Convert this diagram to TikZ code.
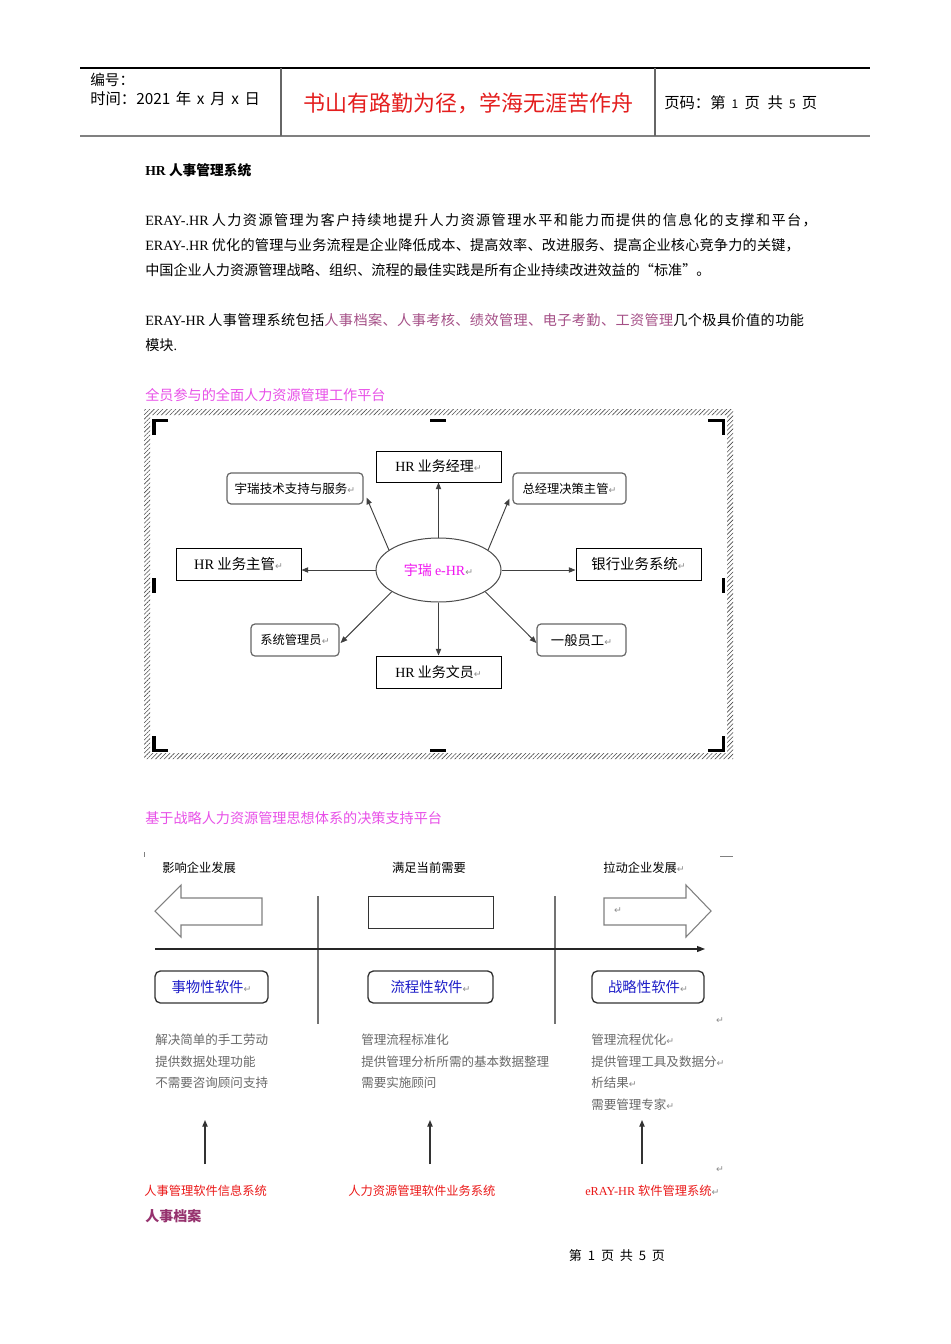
\documentclass[tikz,border=0pt]{standalone}
\usepackage{fontspec}
\setmainfont{Noto Sans CJK SC}
\newfontfamily\tnr{Liberation Serif}
\newfontfamily\djv{DejaVu Sans}
\usetikzlibrary{arrows.meta,patterns.meta,calc,shapes.geometric}
\newcommand{\fsz}[1]{\fontsize{#1}{#1}\selectfont}
\newcommand{\parmk}{{\djv\fontsize{7}{7}\selectfont\color{black!45}↵}}
\newcommand{\hgap}{\hspace{0.37em}}
\definecolor{motto}{RGB}{228,30,30}
\definecolor{mauve}{RGB}{165,80,135}
\definecolor{plum}{RGB}{150,50,110}
\definecolor{pinkh}{RGB}{232,80,232}
\definecolor{magx}{RGB}{240,20,240}
\definecolor{swblue}{RGB}{30,30,200}
\definecolor{listgray}{RGB}{105,105,105}
\definecolor{redlab}{RGB}{235,25,25}
\tikzset{
  txt/.style={inner sep=0pt, anchor=west},
  sqbox/.style={draw=black, line width=0.75pt, inner sep=0pt, minimum height=24pt},
  rbox/.style={draw=black!60, line width=0.9pt, rounded corners=3pt, inner sep=0pt, minimum height=23.25pt},
  swbox/.style={draw=black!80, line width=1pt, rounded corners=4pt, inner sep=0pt, minimum height=24pt},
  arr/.style={-{Triangle[length=5pt,width=4pt]}, line width=0.7pt, draw=black!75},
  cornermk/.style={line width=2.4pt, draw=black, line cap=butt, line join=miter},
  blockarrow/.style={draw=black!50, line width=0.8pt},
  vline/.style={draw=black!55, line width=0.9pt},
}
\begin{document}
\begin{tikzpicture}[x=0.75pt,y=-0.75pt]
\useasboundingbox (0,0) rectangle (950,1344);
\fill[white] (0,0) rectangle (950,1344);

% ---------- header ----------
\draw[black, line width=0.8pt] (80,68) -- (870,68);
\draw[black!50, line width=1.6pt] (80,136) -- (870,136);
\draw[black!60, line width=0.9pt] (281,68) -- (281,136);
\draw[black!60, line width=0.9pt] (655,68) -- (655,136);
\node[txt] (hnum) at (90,80) {\fsz{11}编号：};
\node[txt] (htime) at (90,99) {\fsz{11.5}时间：2021\hgap 年\hgap x\hgap 月\hgap x\hgap 日};
\node (hmotto) at (468,103) {\fsz{16.5}\color{motto}书山有路勤为径，学海无涯苦作舟};
\node[txt] (hpage) at (664,103) {\fsz{11.5}页码：第\hspace{0.4em}{\fsz{9}1}\hspace{0.4em}页\enspace 共\hspace{0.4em}{\fsz{9}5}\hspace{0.4em}页};

% ---------- body text ----------
\node[txt] (title) at (145,170) {\fsz{10.3}\bfseries{\tnr HR} 人事管理系统};
\node[txt] (p1) at (145,220) {\fsz{10.6}{\tnr ERAY-.HR} \addfontfeature{LetterSpace=10}人力资源管理为客户持续地提升人力资源管理水平和能力而提供的信息化的支撑和平台，};
\node[txt] (p2) at (145,245) {\fsz{10.6}{\tnr ERAY-.HR} \addfontfeature{LetterSpace=1.5}优化的管理与业务流程是企业降低成本、提高效率、改进服务、提高企业核心竞争力的关键，};
\node[txt] (p3) at (145,270) {\fsz{10.6}中国企业人力资源管理战略、组织、流程的最佳实践是所有企业持续改进效益的“标准”。};
\node[txt] (p4) at (145,320) {\fsz{10.6}{\tnr ERAY-HR} \addfontfeature{LetterSpace=3}人事管理系统包括{\color{mauve}人事档案、人事考核、绩效管理、电子考勤、工资管理}几个极具价值的功能};
\node[txt] (p5) at (145,345) {\fsz{10.6}模块{\tnr .}};
\node[txt] (h1) at (145,395) {\fsz{10.6}\color{pinkh}全员参与的全面人力资源管理工作平台};

% ---------- diagram 1 frame ----------
\fill[pattern={Lines[angle=45,distance=2.3pt,line width=0.45pt]}, pattern color=black!70, even odd rule]
  (144,409) rectangle (733,759) (150,415) rectangle (727,753);
\draw[cornermk] (168,420.5) -- (154,420.5) -- (154,435);
\draw[cornermk] (708,420.5) -- (723.5,420.5) -- (723.5,435);
\draw[cornermk] (168,750.5) -- (154,750.5) -- (154,736);
\draw[cornermk] (708,750.5) -- (723.5,750.5) -- (723.5,736);
\draw[cornermk] (430,420.5) -- (446,420.5);
\draw[cornermk] (430,750.5) -- (446,750.5);
\draw[cornermk] (154,578) -- (154,593);
\draw[cornermk] (723.5,578) -- (723.5,593);

% ---------- diagram 1 nodes ----------
\node[ellipse, draw=black!70, line width=0.75pt, minimum width=93.75pt, minimum height=48pt, inner sep=0pt] (ehr) at (438.5,570)
  {\fsz{10.5}\color{magx}宇瑞 {\tnr e-HR}\parmk};
\node[sqbox, minimum width=93.75pt, minimum height=23.25pt] (mgr) at (438.5,466.5) {\fsz{10.5}{\tnr HR} 业务经理\parmk};
\node[rbox, minimum width=102pt] (tech) at (295,488.5) {\fsz{9.4}宇瑞技术支持与服务\parmk};
\node[rbox, minimum width=84.75pt] (ceo) at (569.5,488.5) {\fsz{9.2}总经理决策主管\parmk};
\node[sqbox, minimum width=93.75pt] (sup) at (238.5,564) {\fsz{10.8}{\tnr HR} 业务主管\parmk};
\node[sqbox, minimum width=93.75pt] (bank) at (638.5,564) {\fsz{10.8}银行业务系统\parmk};
\node[rbox, minimum width=66pt, minimum height=24pt] (adm) at (295,640) {\fsz{9.2}系统管理员\parmk};
\node[rbox, minimum width=66.75pt, minimum height=24pt] (emp) at (581.5,640) {\fsz{10}一般员工\parmk};
\node[sqbox, minimum width=93.75pt] (clerk) at (438.5,672) {\fsz{10.5}{\tnr HR} 业务文员\parmk};

\draw[arr] (ehr.north) -- (mgr.south);
\draw[arr] (ehr.south) -- (clerk.north);
\draw[arr] (ehr.west) -- (sup.east |- ehr.west);
\draw[arr] (ehr.east) -- (bank.west |- ehr.east);
\draw[arr] (ehr.158) -- ($(tech.south east)+(3,-7)$);
\draw[arr] (ehr.22) -- ($(ceo.south west)+(-3,-6)$);
\draw[arr] (ehr.205) -- ($(adm.east)+(1,3)$);
\draw[arr] (ehr.-25) -- ($(emp.west)+(0,3)$);

% ---------- diagram 2 ----------
\node[txt] (h2) at (145,818) {\fsz{10.6}\color{pinkh}基于战略人力资源管理思想体系的决策支持平台};
\draw[black!50, line width=0.5pt] (144,852) -- (144,857);
\draw[black!50, line width=0.5pt] (720,856) -- (733,856);

\node[txt] (infl) at (162,868) {\fsz{9.2}影响企业发展};
\node (meet) at (429,868) {\fsz{9.2}满足当前需要};
\node[txt] (pull) at (603,868) {\fsz{9.2}拉动企业发展\parmk};

\draw[blockarrow] (155,911) -- (181,885) -- (181,898) -- (262,898) -- (262,925) -- (181,925) -- (181,937) -- cycle;
\draw[blockarrow] (711,911) -- (686,885) -- (686,898) -- (604,898) -- (604,925) -- (686,925) -- (686,937) -- cycle;
\node[inner sep=0pt] (rmk) at (618,911) {\parmk};
\draw[black!80, line width=0.7pt] (368,896) rectangle (493,928);

\draw[vline] (318,896) -- (318,1024);
\draw[vline] (555,896) -- (555,1024);

\coordinate (axA) at (155,949);
\coordinate (axB) at (705,949);
\draw[-{Triangle[length=6pt,width=4.5pt]}, line width=0.8pt, black!85] (axA) -- (axB);

\node[swbox, minimum width=84.75pt] (swA) at (211.5,987) {\fsz{10.8}\color{swblue}事物性软件\parmk};
\node[swbox, minimum width=93.75pt] (swB) at (430.5,987) {\fsz{10.8}\color{swblue}流程性软件\parmk};
\node[swbox, minimum width=84pt] (swC) at (648,987) {\fsz{10.8}\color{swblue}战略性软件\parmk};
\node[inner sep=0pt] (rmk2) at (720,1021) {\parmk};

\begin{scope}[every node/.style={txt}]
\node (la1) at (155,1040) {\fsz{9.4}\color{listgray}解决简单的手工劳动};
\node (la2) at (155,1062) {\fsz{9.4}\color{listgray}提供数据处理功能};
\node (la3) at (155,1083) {\fsz{9.4}\color{listgray}不需要咨询顾问支持};
\node (lb1) at (361,1040) {\fsz{9.4}\color{listgray}管理流程标准化};
\node (lb2) at (361,1062) {\fsz{9.4}\color{listgray}提供管理分析所需的基本数据整理};
\node (lb3) at (361,1083) {\fsz{9.4}\color{listgray}需要实施顾问};
\node (lc1) at (591,1040) {\fsz{9.4}\color{listgray}管理流程优化\parmk};
\node (lc2) at (591,1062) {\fsz{9.4}\color{listgray}提供管理工具及数据分\parmk};
\node (lc3) at (591,1083) {\fsz{9.4}\color{listgray}析结果\parmk};
\node (lc4) at (591,1105) {\fsz{9.4}\color{listgray}需要管理专家\parmk};
\end{scope}

\coordinate (uA0) at (205,1164); \coordinate (uA1) at (205,1120);
\coordinate (uB0) at (430,1164); \coordinate (uB1) at (430,1120);
\coordinate (uC0) at (642,1164); \coordinate (uC1) at (642,1120);
\draw[arr, line width=0.9pt, draw=black!80] (uA0) -- (uA1);
\draw[arr, line width=0.9pt, draw=black!80] (uB0) -- (uB1);
\draw[arr, line width=0.9pt, draw=black!80] (uC0) -- (uC1);
\node[inner sep=0pt] (rmk3) at (720,1170) {\parmk};

\node[txt] (ra) at (144,1191) {\fsz{9.2}\color{redlab}人事管理软件信息系统};
\node[txt] (rb) at (348,1191) {\fsz{9.2}\color{redlab}人力资源管理软件业务系统};
\node[txt] (rc) at (585,1191) {\fsz{9.2}\color{redlab}{\tnr eRAY-HR} 软件管理系统\parmk};

\node[txt] (rsda) at (145,1216) {\fsz{10.5}\bfseries\color{plum}人事档案};

% ---------- footer ----------
\node (foot) at (617,1256) {\fsz{9.8}第\ \ 1\ \ 页\ \ 共\ \ 5\ \ 页};
\end{tikzpicture}
\end{document}
